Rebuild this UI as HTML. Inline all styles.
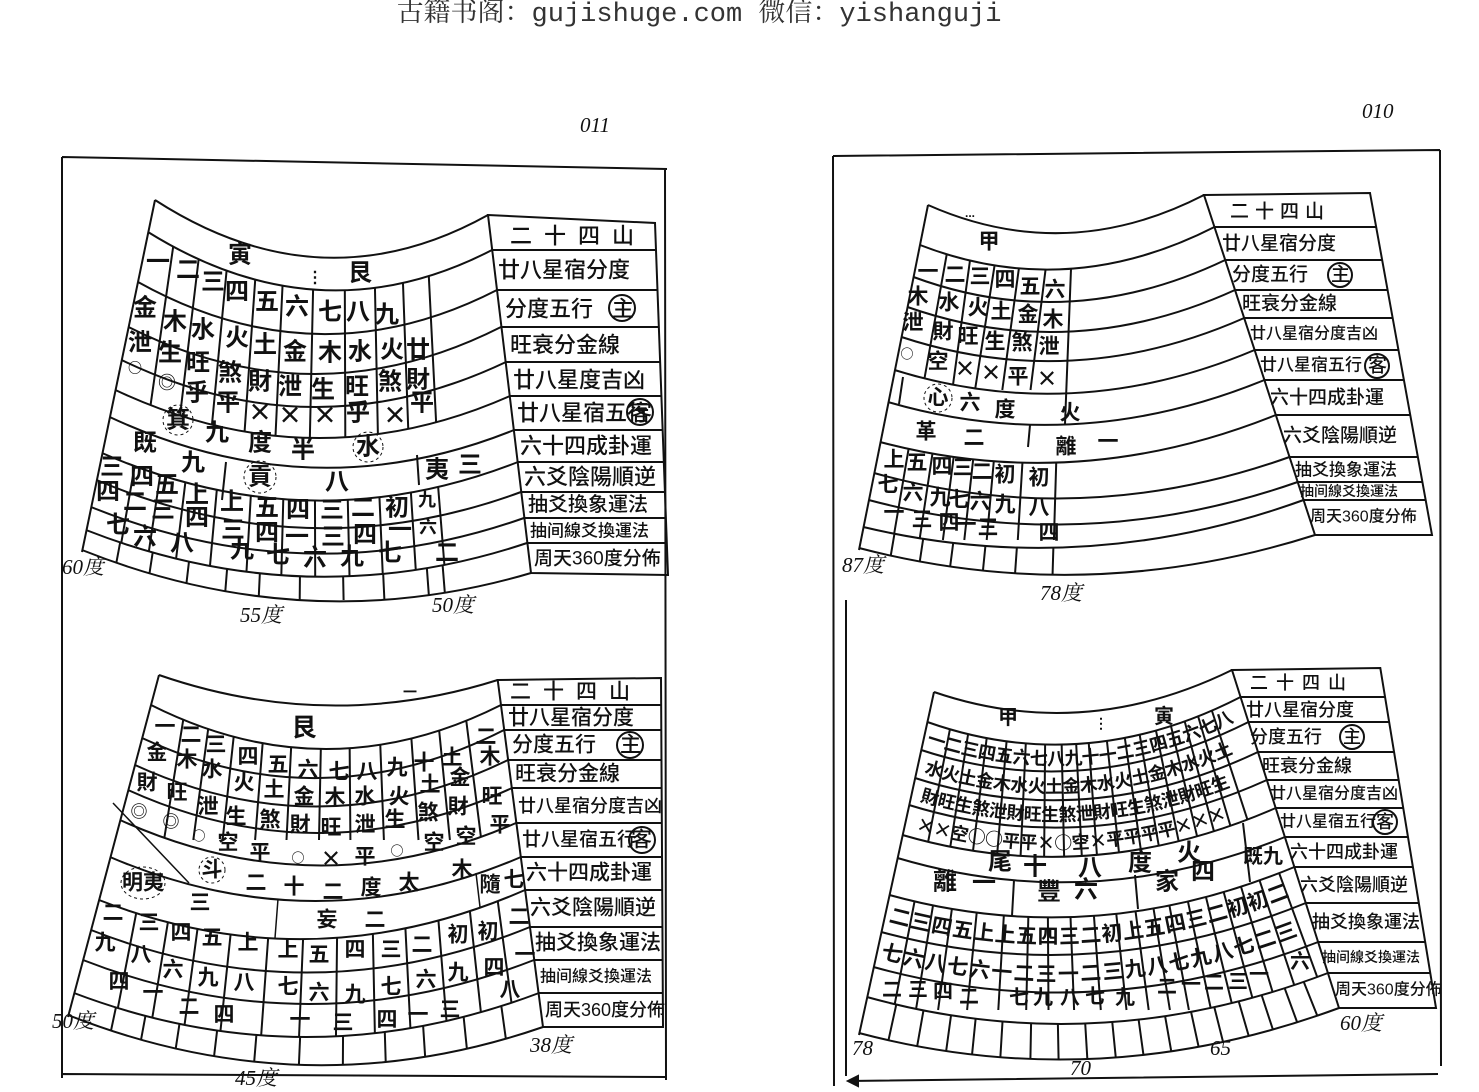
<!DOCTYPE html>
<html><head><meta charset="utf-8"><style>
html,body{margin:0;padding:0;background:#fff;}
svg{display:block;}
text{font-family:"Liberation Sans","Noto Sans CJK SC",sans-serif;fill:#111;}
.c{text-anchor:middle;dominant-baseline:central;font-weight:bold;}
.a{font-size:24px}.b{font-size:21px}.cc{font-size:21px}
.l{dominant-baseline:central;font-weight:500;}
.sym{font-family:"Noto Sans CJK SC",sans-serif;}
.it{font-family:"Liberation Serif","Noto Serif CJK SC",serif;font-style:italic;font-size:21px;}
</style></head><body>
<svg width="1479" height="1092" viewBox="0 0 1479 1092" xmlns="http://www.w3.org/2000/svg">
<defs>
<clipPath id="aU"><path d="M148,232 Q320,339 492,250 L510,396 Q313,483 115.4,390 Z"/></clipPath>
<clipPath id="aL"><path d="M102,453 Q310,543.5 518,462 L527,543 Q306.5,616.5 86,530 Z"/></clipPath>
<clipPath id="aB"><path d="M86,530 Q306.5,616.5 527,543 L531,573 Q306.5,639.5 82,550 Z"/></clipPath>
<clipPath id="bU"><path d="M920,245 Q1067,302 1214.4,227 L1254.6,350 Q1074.5,426 894.5,370 Z"/></clipPath>
<clipPath id="bL"><path d="M880,442 Q1078,494.5 1275.8,415 L1303.6,500 Q1083.5,579.5 863.3,527 Z"/></clipPath>
<clipPath id="bB"><path d="M863.3,527 Q1083.5,579.5 1303.6,500 L1315,535 Q1087,607.5 859,548 Z"/></clipPath>
<clipPath id="cU"><path d="M151,705 Q326,793 501,705 L516,823 Q318,909.5 120,820 Z"/></clipPath>
<clipPath id="cL"><path d="M99,900 Q312,983 525,890 L539,993 Q306,1081 74,993 Z"/></clipPath>
<clipPath id="cB"><path d="M74,993 Q306,1081 539,993 L543,1027 Q305.5,1109 68,1015 Z"/></clipPath>
<clipPath id="dU"><path d="M927.4,722 Q1084,777.5 1240.6,697 L1275.7,808 Q1089,889.5 902.5,835 Z"/></clipPath>
<clipPath id="dL"><path d="M889.4,895 Q1092,951 1294.4,867 L1328,973 Q1097.5,1061 866.9,997 Z"/></clipPath>
<clipPath id="dB"><path d="M866.9,997 Q1097.5,1061 1328,973 L1339,1008 Q1099,1096.5 859,1033 Z"/></clipPath>
<path id="d1" d="M924.3,743 Q1084.5,797.75 1244.55,716.5"/>
<path id="d2" d="M918.1,771 Q1085.75,825.5 1253.25,744"/>
<path id="d3" d="M912,798.5 Q1087.25,853.75 1262.45,773"/>
<path id="d4" d="M905.75,827 Q1088.5,882 1271.3,801"/>
<path id="d7" d="M885.3,921 Q1092.75,977.75 1300.1,892.5"/>
<path id="d8" d="M877.35,957 Q1094.75,1016.5 1312,930"/>
</defs>

<text x="699" y="21" style="font-family:'Liberation Mono','Noto Serif CJK SC',serif;font-size:27px;fill:#333" text-anchor="middle">古籍书阁：gujishuge.com 微信：yishanguji</text>

<g stroke="#111" stroke-width="2" fill="none">
<path d="M62,157 L667,169 M62,157 L62,1078 M665,168 L666,1080 M63,1074 L666,1077"/>
<path d="M833,156 L1440,150 M833,156 L834,1086 M846,600 L846,1076 M1440,150 L1441,1066 M848,1081 L1438,1074"/>
<path d="M848,1081 l10,-5 l0,10 z" fill="#111"/>

<path d="M155,200 Q321.5,307.5 488,215 M148,232 Q320,339 492,250 M138,282 Q317.5,382 497,290 M128.5,327 Q315,421 501,327 M121.6,360 Q314,453 506,362 M115.4,390 Q313,483 510,396 M109.7,417 Q312,511.5 514,430 M102,453 Q310,543.5 518,462 M96.6,480 Q309,570 521,492 M91,507 Q307.5,594.5 524,518 M86,530 Q306.5,616.5 527,543 M82,550 Q306.5,639.5 531,573"/>
<path d="M155,200 L82,552"/>
<path d="M488,215 L655,223 L668,575 L531,573 Z M492.2,250 L656,250 M497,290 L657.5,290 M501.4,327 L658.8,327 M505.6,362 L660.1,362 M509.7,396 L661.4,396 M513.8,430 L662.7,430 M517.6,462 L663.8,462 M521.2,492 L665,492 M524.4,518 L665.9,518 M527.4,543 L666.8,543"/>
<path clip-path="url(#aU)" d="M177,220 L137,500 M203.3,220 L170,500 M231.4,220 L204.8,500 M259.4,220 L239.8,500 M285.6,220 L272.5,500 M314.6,220 L308.5,500 M344.6,220 L345.5,500 M373.6,220 L379.2,500 M400.7,220 L410.8,500 M426,220 L440,500"/>
<path clip-path="url(#aL)" d="M139.2,440 L114.8,580 M165.4,440 L144.6,580 M190.5,440 L173.5,580 M221.3,440 L208.7,580 M254,440 L246,580 M284.8,440 L281.2,580 M314.8,440 L315.2,580 M346.4,440 L349.6,580 M377,440 L383,580 M407.6,440 L416.4,580 M434.4,440 L445.6,580"/>
<path clip-path="url(#aB)" d="M120.6,540 L109.4,600 M154.6,540 L145.4,600 M191.5,540 L184.5,600 M229.4,540 L224.6,600 M261.4,540 L258.6,600 M300.3,540 L299.7,600 M342.4,540 L343.6,600 M381.6,540 L384.4,600 M424.8,540 L429.2,600 M440.6,540 L445.4,600"/>
<path d="M226,462 L222,500 M417,455 L419,485"/>

<path d="M928,205 Q1066,266 1204,195 M920,245 Q1067,302 1214.4,227 M913.5,277 Q1069,334.5 1225.2,260 M907.5,307 Q1071,364.5 1235,290 M901.5,337 Q1073,393.5 1244.2,318 M894.5,370 Q1074.5,426 1254.6,350 M888,402 Q1076,457 1264.4,380 M880,442 Q1078,494.5 1275.8,415 M874,473 Q1082,531 1289.5,457 M868.7,500 Q1083,557 1297.7,482 M863.3,527 Q1083.5,579.5 1303.6,500 M859,548 Q1087,607.5 1315,535"/>
<path d="M928,205 L859,550"/>
<path d="M1204,195 L1370,193 L1432,535 L1315,535 Z M1214.4,227 L1375.8,227 M1225.2,260 L1381.7,260 M1235,290 L1387.1,290 M1244.2,318 L1392.1,318 M1254.6,350 L1397.9,350 M1264.4,380 L1403.3,380 M1275.8,415 L1409.6,415 M1289.5,457 L1417.2,457 M1297.7,482 L1421.7,482 M1303.6,500 L1424.9,500"/>
<path clip-path="url(#bU)" d="M947.5,250 L922.4,390 M971.4,250 L952.3,390 M997,250 L975,390 M1021.4,250 L1002.3,390 M1048,250 L1030.5,390"/>
<path d="M1071,269 L1065,424 M903,377 L899,404 M1030,425 L1028,447"/>
<path clip-path="url(#bL)" d="M910.1,440 L893.1,540 M934.5,440 L919.5,540 M955.9,440 L942.9,540 M975.3,440 L964.3,540 M995.7,440 L986.7,540 M1023.8,440 L1017.8,540 M1056.9,440 L1053.9,540"/>
<path clip-path="url(#bB)" d="M896.8,520 L883.2,600 M926,520 L914,600 M956.2,520 L945.8,600 M988,520 L980,600 M1018.8,520 L1013.2,600 M1054.2,520 L1051.8,600"/>

<path d="M159,675 Q328,733.5 497.7,680 M151,705 Q326,793 501,705 M142,738 Q323,822 504,730 M135,765 Q321.5,850.5 508,760 M128,790 Q320,877 512,788 M120,820 Q318,909.5 516,823 M110,857 Q315.5,945 521,857 M99,900 Q312,983 525,890 M91,930 Q310.5,1016.5 530,927 M83,960 Q308.5,1048 534,960 M74,993 Q306,1081 539,993 M68,1015 Q305.5,1109 543,1027"/>
<path d="M159,675 L68,1017"/>
<path d="M497.7,680 L661,678 L663,1027 L543,1027 Z M501,705 L661,705 M504.2,730 L661,730 M508.1,760 L661,760 M511.8,788 L661,788 M516.3,823 L661,823 M520.8,857 L661,857 M525,890 L662,890 M529.9,927 L662,927 M534.1,960 L662,960 M538.4,993 L662,993"/>
<path clip-path="url(#cU)" d="M188,690 L164,840 M213.4,690 L193.3,840 M238.7,690 L222.6,840 M266.8,690 L255.1,840 M294,690 L286.5,840 M322,690 L319,840 M349.2,690 L350.4,840 M378.2,690 L383.9,840 M408,690 L418.5,840 M435.2,690 L449.9,840 M462.4,690 L481.3,840"/>
<path clip-path="url(#cL)" d="M142.6,880 L107.8,1060 M174.8,880 L145.4,1060 M204.1,880 L179.8,1060 M236.3,880 L217.4,1060 M272.3,880 L259.4,1060 M305.5,880 L298.1,1060 M337.7,880 L335.7,1060 M371.8,880 L375.4,1060 M403,880 L412,1060 M435.2,880 L449.6,1060 M466.5,880 L486.1,1060 M494.9,880 L519.2,1060"/>
<path clip-path="url(#cB)" d="M119.6,990 L94.2,1110 M150.2,990 L128.1,1110 M184.6,990 L166.4,1110 M221.9,990 L207.7,1110 M260.1,990 L250.2,1110 M302.2,990 L296.9,1110 M343.3,990 L342.6,1110 M383.5,990 L387.2,1110 M420.8,990 L428.6,1110 M460.9,990 L473.1,1110 M499.1,990 L515.7,1110"/>
<path d="M278,899 L275,938 M476,873 L480,907 M113,803 L189,883" stroke-width="1.5"/>

<path d="M934,692 Q1083,743 1232,670 M927.4,722 Q1084,777.5 1240.6,697 M921.2,750 Q1085,804 1248.5,722 M915,778 Q1086.5,833 1258,752 M909,805 Q1088,860.5 1266.9,780 M902.5,835 Q1089,889.5 1275.7,808 M897.5,858 Q1091,915.5 1284.9,837 M889.4,895 Q1092,951 1294.4,867 M881.2,932 Q1093.5,989.5 1305.8,903 M873.5,967 Q1096,1028.5 1318.2,942 M866.9,997 Q1097.5,1061 1328,973 M859,1033 Q1099,1096.5 1339,1008"/>
<path d="M934,692 L859,1035"/>
<path d="M1232,670 L1380.3,668 L1436,1008 L1339,1008 Z M1240.6,697 L1384.8,697 M1248.5,722 L1388.9,722 M1258,752 L1393.9,752 M1266.9,780 L1398.5,780 M1275.7,808 L1403.1,808 M1284.9,837 L1407.9,837 M1294.4,867 L1412.8,867 M1305.8,903 L1418.8,903 M1318.2,942 L1425.2,942 M1328,973 L1430.3,973"/>
<path clip-path="url(#dU)" d="M955.6,700 L924.6,860 M973.5,700 L948.2,860 M991.3,700 L971.9,860 M1010,700 L996.7,860 M1027.8,700 L1020.4,860 M1045.5,700 L1044.1,860 M1060.7,700 L1064.2,860 M1074,700 L1082,860 M1085.6,700 L1097.3,860 M1102.5,700 L1119.8,860 M1119.4,700 L1142.3,860 M1133.7,700 L1161.2,860 M1149.7,700 L1182.5,860 M1164.8,700 L1202.7,860 M1179,700 L1221.6,860 M1193.3,700 L1240.5,860 M1208.4,700 L1260.6,860"/>
<path clip-path="url(#dL)" d="M920.6,870 L893.6,1010 M938.8,870 L915.9,1010 M957.2,870 L938.1,1010 M980.9,870 L967.1,1010 M1006.5,870 L998.3,1010 M1029.4,870 L1026.2,1010 M1047.6,870 L1048.5,1010 M1068.7,870 L1074.1,1010 M1090.6,870 L1100.8,1010 M1111.6,870 L1126.5,1010 M1130,870 L1148.7,1010 M1147.3,870 L1169.9,1010 M1162.8,870 L1188.9,1010 M1181.2,870 L1211.1,1010 M1199.4,870 L1233.4,1010 M1217.7,870 L1255.7,1010 M1236,870 L1278,1010 M1256.1,870 L1302.5,1010 M1278,870 L1329.3,1010"/>
<path clip-path="url(#dB)" d="M903.8,970 L879.8,1080 M930.6,970 L911.2,1080 M957.2,970 L942.2,1080 M980.5,970 L969.5,1080 M1005.6,970 L999,1080 M1032.1,970 L1030,1080 M1056.8,970 L1059,1080 M1082,970 L1088.6,1080 M1107.1,970 L1118,1080 M1131.8,970 L1146.9,1080 M1157,970 L1176.3,1080 M1182,970 L1205.8,1080 M1205,970 L1232.6,1080 M1229.6,970 L1261.5,1080 M1253.4,970 L1289.4,1080 M1278,970 L1318.3,1080 M1299,970 L1343,1080"/>
<path d="M1014,880 L1012,916 M1135,875 L1138,909 M1243,823 L1250,882"/>

<circle cx="622" cy="308" r="13"/><circle cx="640" cy="412" r="13"/>
<circle cx="1340" cy="275" r="12"/><circle cx="1377" cy="366" r="12"/>
<circle cx="630" cy="745" r="13"/><circle cx="642" cy="840" r="13"/>
<circle cx="1352" cy="737" r="12"/><circle cx="1385" cy="822" r="12"/>
<g stroke-width="1" stroke-dasharray="3,3">
<circle cx="178" cy="420" r="15"/><circle cx="368" cy="447" r="15"/><circle cx="260" cy="477" r="16"/>
<circle cx="938" cy="398" r="14"/><circle cx="212" cy="870" r="13"/><ellipse cx="143" cy="883" rx="22" ry="16"/>
</g>
</g>

<g class="c a">
<text x="240" y="255">寅</text><text x="315" y="278" font-size="16">⋮</text><text x="360" y="273">艮</text>
<text x="158" y="262">一</text><text x="188" y="270">二</text><text x="213" y="282">三</text><text x="237" y="292">四</text><text x="267" y="302">五</text><text x="297" y="307">六</text><text x="330" y="312">七</text><text x="358" y="312">八</text><text x="387" y="315">九</text>
<text x="145" y="308">金</text><text x="175" y="322">木</text><text x="203" y="330">水</text><text x="237" y="338">火</text><text x="265" y="345">土</text><text x="295" y="352">金</text><text x="330" y="353">木</text><text x="360" y="352">水</text><text x="392" y="350">火</text><text x="418" y="350">廿</text>
<text x="140" y="343">泄</text><text x="170" y="353">生</text><text x="198" y="363">旺</text><text x="230" y="373">煞</text><text x="260" y="382">財</text><text x="290" y="387">泄</text><text x="323" y="390">生</text><text x="357" y="387">旺</text><text x="390" y="382">煞</text><text x="418" y="380">財</text>
<text class="sym" x="135" y="368" font-size="14">○</text><text class="sym" x="167" y="382" font-size="18">◎</text><text x="197" y="393">乎</text><text x="228" y="403">平</text><text class="sym" x="260" y="410">×</text><text class="sym" x="290" y="413">×</text><text class="sym" x="325" y="413">×</text><text x="358" y="413">乎</text><text class="sym" x="395" y="413">×</text><text x="422" y="403">平</text>
<text x="178" y="420">箕</text><text x="217" y="433">九</text><text x="260" y="443">度</text><text x="303" y="450">半</text><text x="368" y="447">水</text>
<text x="145" y="443">既</text><text x="193" y="463">九</text><text x="260" y="477">貢</text><text x="337" y="482">八</text><text x="437" y="470">夷</text><text x="470" y="465">三</text>
<text x="112" y="467">三</text><text x="142" y="477">四</text><text x="167" y="485">五</text><text x="197" y="495">上</text><text x="232" y="502">上</text><text x="267" y="508">五</text><text x="298" y="510">四</text><text x="332" y="510">三</text><text x="363" y="508">二</text><text x="397" y="508">初</text><text x="427" y="500" font-size="18">九</text>
<text x="108" y="492">四</text><text x="135" y="502">二</text><text x="163" y="510">三</text><text x="197" y="518">四</text><text x="233" y="530">三</text><text x="267" y="533">四</text><text x="297" y="537">一</text><text x="333" y="537">三</text><text x="365" y="535">四</text><text x="400" y="530">一</text><text x="428" y="527" font-size="18">六</text>
<text x="118" y="525">七</text><text x="145" y="537">六</text><text x="182" y="543">八</text><text x="242" y="550">九</text><text x="278" y="555">七</text><text x="315" y="558">六</text><text x="352" y="557">九</text><text x="390" y="553">七</text><text x="447" y="553">二</text>
</g>
<g class="l" font-size="22">
<text x="510" y="236" letter-spacing="12">二十四山</text>
<text x="498" y="270">廿八星宿分度</text>
<text x="505" y="309">分度五行</text><text x="612" y="309">主</text>
<text x="510" y="345">旺衰分金線</text>
<text x="513" y="380">廿八星度吉凶</text>
<text x="517" y="413">廿八星宿五行</text><text x="630" y="413">客</text>
<text x="520" y="446">六十四成卦運</text>
<text x="524" y="477">六爻陰陽順逆</text>
<text x="528" y="505" font-size="20">抽爻換象運法</text>
<text x="530" y="531" font-size="17">抽间線爻換運法</text>
<text x="534" y="559" font-size="19">周天360度分佈</text>
</g>
<text class="it" x="62" y="574">60度</text><text class="it" x="240" y="622">55度</text><text class="it" x="432" y="612">50度</text>
<text class="it" x="580" y="132" font-size="18">011</text><text class="it" x="1362" y="118" font-size="18">010</text>

<g class="c b">
<text x="989" y="242">甲</text><text x="970" y="213" font-size="12">...</text>
<text x="928" y="272">一</text><text x="955" y="275">二</text><text x="980" y="277">三</text><text x="1005" y="280">四</text><text x="1030" y="287">五</text><text x="1055" y="290">六</text>
<text x="918" y="297">木</text><text x="949" y="303">水</text><text x="978" y="308">火</text><text x="1001" y="312">土</text><text x="1028" y="315">金</text><text x="1053" y="320">木</text>
<text x="913" y="323">泄</text><text x="943" y="332">財</text><text x="968" y="337">旺</text><text x="995" y="342">生</text><text x="1022" y="343">煞</text><text x="1049" y="347">泄</text>
<text class="sym" x="907" y="353" font-size="13">○</text><text x="938" y="362">空</text><text class="sym" x="965" y="368">×</text><text class="sym" x="991" y="372">×</text><text x="1018" y="377">平</text><text class="sym" x="1047" y="378">×</text>
<text x="938" y="398">心</text><text x="970" y="403">六</text><text x="1005" y="410">度</text><text x="1070" y="413">火</text>
<text x="926" y="432">革</text><text x="974" y="438">二</text><text x="1066" y="447">離</text><text x="1108" y="442">一</text>
<text x="894" y="460">上</text><text x="917" y="463">五</text><text x="942" y="467">四</text><text x="963" y="468">三</text><text x="982" y="472">二</text><text x="1005" y="475">初</text><text x="1039" y="478">初</text>
<text x="888" y="485">七</text><text x="913" y="493">六</text><text x="940" y="498">九</text><text x="959" y="500">七</text><text x="980" y="502">六</text><text x="1005" y="505">九</text><text x="1039" y="508">八</text>
<text x="894" y="513">一</text><text x="922" y="520">三</text><text x="949" y="523">四</text><text x="966" y="525">一</text><text x="988" y="528">三</text><text x="1049" y="533">四</text>
</g>
<g class="l" font-size="19">
<text x="1230" y="212" letter-spacing="6">二十四山</text>
<text x="1222" y="244">廿八星宿分度</text>
<text x="1232" y="275">分度五行</text><text x="1331" y="275">主</text>
<text x="1242" y="304">旺衰分金線</text>
<text x="1250" y="334" font-size="16">廿八星宿分度吉凶</text>
<text x="1260" y="365" font-size="17">廿八星宿五行</text><text x="1368" y="366">客</text>
<text x="1270" y="398">六十四成卦運</text>
<text x="1283" y="436">六爻陰陽順逆</text>
<text x="1295" y="470" font-size="17">抽爻換象運法</text>
<text x="1300" y="491" font-size="14">抽间線爻換運法</text>
<text x="1310" y="517" font-size="16">周天360度分佈</text>
</g>
<text class="it" x="842" y="572">87度</text><text class="it" x="1040" y="600">78度</text>

<g class="c cc">
<text x="304" y="728" font-size="25">艮</text><text x="410" y="692" font-size="14">一</text>
<text x="165" y="727">一</text><text x="191" y="735">二</text><text x="216" y="745">三</text><text x="248" y="757">四</text><text x="278" y="765">五</text><text x="308" y="770">六</text><text x="339" y="772">七</text><text x="367" y="772">八</text><text x="397" y="768">九</text><text x="424" y="763">十</text><text x="452" y="758">土</text><text x="486" y="737">二</text>
<text x="157" y="753">金</text><text x="187" y="760">木</text><text x="212" y="770">水</text><text x="244" y="783">火</text><text x="274" y="790">土</text><text x="304" y="797">金</text><text x="335" y="798">木</text><text x="365" y="797">水</text><text x="399" y="797">火</text><text x="430" y="785">土</text><text x="460" y="778">金</text><text x="490" y="757">木</text>
<text x="147" y="783">財</text><text x="177" y="793">旺</text><text x="208" y="807">泄</text><text x="236" y="817">生</text><text x="270" y="820">煞</text><text x="300" y="825">財</text><text x="331" y="828">旺</text><text x="365" y="825">泄</text><text x="395" y="820">生</text><text x="428" y="813">煞</text><text x="458" y="807">財</text><text x="492" y="797">旺</text>
<text class="sym" x="139" y="810" font-size="17">◎</text><text class="sym" x="171" y="820" font-size="17">◎</text><text class="sym" x="199" y="835" font-size="13">○</text><text x="228" y="843">空</text><text x="260" y="853">平</text><text class="sym" x="298" y="857" font-size="13">○</text><text class="sym" x="331" y="858">×</text><text x="365" y="857">平</text><text class="sym" x="397" y="850" font-size="13">○</text><text x="434" y="843">空</text><text x="466" y="837">空</text><text x="500" y="825">平</text>
<text x="212" y="870">斗</text><text x="256" y="883">二</text><text x="294" y="887">十</text><text x="333" y="892">二</text><text x="371" y="888">度</text><text x="409" y="883">太</text><text x="462" y="870">木</text>
<text x="143" y="883">明夷</text><text x="200" y="903">三</text><text x="327" y="920">妄</text><text x="375" y="920">二</text><text x="490" y="885">隨</text><text x="514" y="880">七</text>
<text x="113" y="913">二</text><text x="149" y="923">三</text><text x="181" y="933">四</text><text x="212" y="938">五</text><text x="248" y="943">上</text><text x="288" y="950">上</text><text x="319" y="955">五</text><text x="355" y="950">四</text><text x="391" y="950">三</text><text x="422" y="945">二</text><text x="458" y="935">初</text><text x="488" y="932">初</text><text x="519" y="917">二</text>
<text x="105" y="943">九</text><text x="141" y="955">八</text><text x="173" y="970">六</text><text x="208" y="978">九</text><text x="244" y="983">八</text><text x="288" y="987">七</text><text x="319" y="993">六</text><text x="355" y="995">九</text><text x="391" y="987">七</text><text x="426" y="980">六</text><text x="458" y="973">九</text><text x="494" y="968">四</text><text x="525" y="955">一</text>
<text x="119" y="982">四</text><text x="153" y="993">一</text><text x="189" y="1007">二</text><text x="224" y="1015">四</text><text x="300" y="1020">一</text><text x="343" y="1023">三</text><text x="387" y="1020">四</text><text x="418" y="1015">一</text><text x="450" y="1010">三</text><text x="510" y="990">八</text>
</g>
<g class="l" font-size="21">
<text x="510" y="692" letter-spacing="12">二十四山</text>
<text x="508" y="718">廿八星宿分度</text>
<text x="512" y="745">分度五行</text><text x="620" y="745">主</text>
<text x="515" y="774">旺衰分金線</text>
<text x="518" y="806" font-size="18">廿八星宿分度吉凶</text>
<text x="522" y="840" font-size="19">廿八星宿五行</text><text x="631" y="840">客</text>
<text x="526" y="873">六十四成卦運</text>
<text x="530" y="908">六爻陰陽順逆</text>
<text x="535" y="943">抽爻換象運法</text>
<text x="540" y="977" font-size="16">抽间線爻換運法</text>
<text x="545" y="1010" font-size="18">周天360度分佈</text>
</g>
<text class="it" x="52" y="1028">50度</text><text class="it" x="235" y="1085">45度</text><text class="it" x="530" y="1052">38度</text>

<g class="c" font-size="20">
<text x="1008" y="718">甲</text><text x="1101" y="723" font-size="14">⋮</text><text x="1164" y="717">寅</text>
<text x="1000" y="862" font-size="24">尾</text><text x="1035" y="867" font-size="24">十</text><text x="1090" y="868" font-size="24">八</text><text x="1140" y="863" font-size="24">度</text><text x="1189" y="853" font-size="24">火</text>
<text x="945" y="882" font-size="24">離</text><text x="984" y="883" font-size="24">一</text><text x="1049" y="892" font-size="24">豐</text><text x="1086" y="890" font-size="24">六</text><text x="1167" y="882" font-size="24">家</text><text x="1203" y="872" font-size="24">四</text><text x="1253" y="857">既</text><text x="1273" y="857">九</text>
<text x="892" y="990">二</text><text x="918" y="990">三</text><text x="943" y="992">四</text><text x="969" y="997">二</text><text x="1019" y="998">七</text><text x="1043" y="998">九</text><text x="1070" y="998">八</text><text x="1095" y="997">七</text><text x="1125" y="998">九</text><text x="1167" y="987">二</text><text x="1191" y="985">一</text><text x="1214" y="983">二</text><text x="1238" y="982">三</text><text x="1259" y="975">一</text><text x="1300" y="962">六</text>
</g>
<g font-size="18" font-weight="bold">
<text letter-spacing="-0.4"><textPath href="#d1" startOffset="2">一二三四五六七八九十一二三四五六七八</textPath></text>
<text letter-spacing="-0.4"><textPath href="#d2" startOffset="6">水火土金木水火土金木水火土金木水火土</textPath></text>
<text letter-spacing="-0.4"><textPath href="#d3" startOffset="8">財旺生煞泄財旺生煞泄財旺生煞泄財旺生</textPath></text>
<text class="sym" letter-spacing="-0.4"><textPath href="#d4" startOffset="10">××空○○平平×○空×平平平平×××</textPath></text>
</g>
<g font-size="21" font-weight="bold">
<text letter-spacing="0.6"><textPath href="#d7" startOffset="3">二三四五上上五四三二初上五四三二初初二</textPath></text>
<text letter-spacing="1.5"><textPath href="#d8" startOffset="3">七六八七六一二三一二三九八七九八七二三</textPath></text>
</g>
<g class="l" font-size="18">
<text x="1250" y="683" letter-spacing="8">二十四山</text>
<text x="1246" y="710">廿八星宿分度</text>
<text x="1250" y="737">分度五行</text><text x="1343" y="737">主</text>
<text x="1262" y="766">旺衰分金線</text>
<text x="1270" y="794" font-size="16">廿八星宿分度吉凶</text>
<text x="1280" y="822" font-size="16">廿八星宿五行</text><text x="1376" y="822">客</text>
<text x="1290" y="852">六十四成卦運</text>
<text x="1300" y="885">六爻陰陽順逆</text>
<text x="1312" y="922">抽爻換象運法</text>
<text x="1322" y="957" font-size="14">抽间線爻換運法</text>
<text x="1335" y="990" font-size="16">周天360度分佈</text>
</g>
<text class="it" x="852" y="1055">78</text><text class="it" x="1070" y="1075">70</text><text class="it" x="1210" y="1055">65</text><text class="it" x="1340" y="1030">60度</text>
</svg>
</body></html>
